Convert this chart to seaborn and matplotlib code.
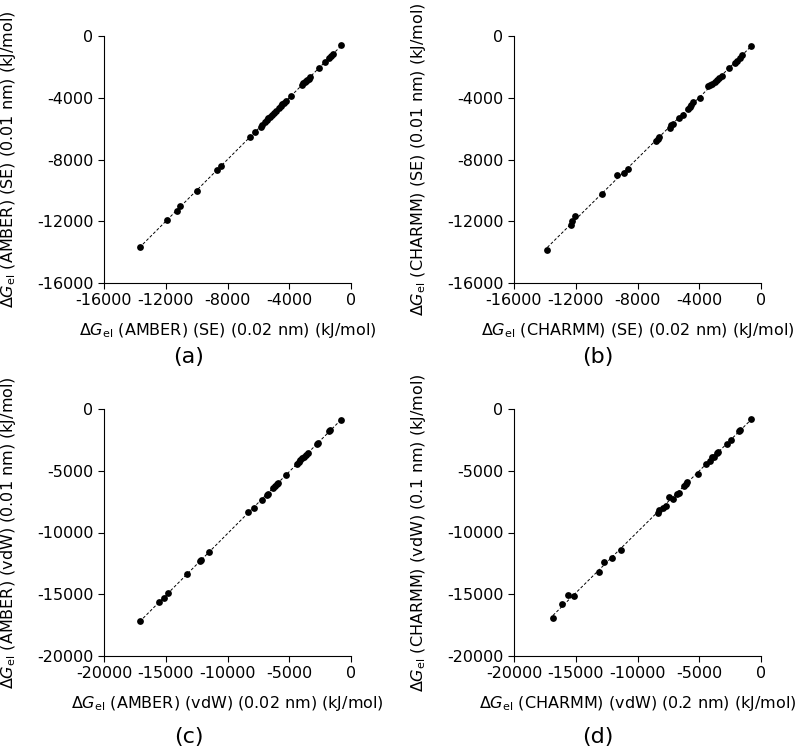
import matplotlib
matplotlib.use('Agg')
import matplotlib.pyplot as plt
import seaborn as sns

# valores (kJ/mol)
a_x = [-13700, -11900, -11300, -11050, -10000, -8650, -8450, -6550, -6200, -5850, -5780, -5550,
       -5450, -5350, -5250, -5100, -5000, -4850, -4650, -4550, -4450, -4350, -4200, -3900, -3150,
       -3080, -3000, -2920, -2850, -2750, -2650, -2050, -1700, -1400, -1300, -1150, -620]
a_y = [-13690, -11920, -11320, -11040, -10010, -8660, -8420, -6570, -6190, -5870, -5760, -5560,
       -5440, -5340, -5260, -5110, -4990, -4840, -4660, -4560, -4430, -4340, -4210, -3890, -3160,
       -3070, -3010, -2910, -2840, -2760, -2660, -2050, -1690, -1420, -1290, -1160, -600]

b_x = [-13840, -12280, -12240, -12020, -10270, -9320, -8870, -8600, -6770, -6700, -6600, -5900,
       -5800, -5690, -5340, -5080, -4710, -4620, -4520, -4400, -3960, -3420, -3300, -3150, -3000,
       -2850, -2700, -2550, -2080, -1690, -1550, -1380, -1210, -650]
b_y = [-13840, -12270, -12000, -11680, -10210, -8980, -8850, -8590, -6820, -6700, -6540, -5940,
       -5780, -5680, -5310, -5120, -4750, -4600, -4450, -4280, -4020, -3260, -3180, -3080, -2960,
       -2860, -2700, -2600, -2070, -1760, -1600, -1430, -1220, -650]

c_x = [-17110, -15570, -15160, -14810, -13240, -12240, -12110, -11510, -8300, -7870, -7240, -6840,
       -6700, -6300, -6150, -5990, -5890, -5270, -4400, -4250, -4100, -3950, -3800, -3650, -3460,
       -2780, -2700, -1760, -1700, -840]
c_y = [-17200, -15590, -15290, -14910, -13400, -12300, -12200, -11600, -8370, -8020, -7380, -6950,
       -6850, -6410, -6200, -6050, -5980, -5330, -4470, -4300, -4150, -3980, -3850, -3700, -3530,
       -2870, -2780, -1820, -1740, -910]

d_x = [-16840, -16110, -15620, -15140, -13140, -12680, -12030, -11300, -8380, -8250, -7950, -7730,
       -7430, -7160, -6780, -6600, -6220, -6100, -5970, -5140, -4490, -4150, -3950, -3800, -3600,
       -3450, -2780, -2430, -1800, -1700, -810]
d_y = [-16930, -15770, -15100, -15180, -13190, -12380, -12090, -11390, -8400, -8150, -8000, -7890,
       -7130, -7270, -6860, -6780, -6220, -6050, -5900, -5250, -4440, -4200, -3850, -3900, -3600,
       -3450, -2850, -2500, -1750, -1690, -830]

xlabels = [r'$\Delta G_{\mathrm{el}}$ (AMBER) (SE) (0.02 nm) (kJ/mol)',
           r'$\Delta G_{\mathrm{el}}$ (CHARMM) (SE) (0.02 nm) (kJ/mol)',
           r'$\Delta G_{\mathrm{el}}$ (AMBER) (vdW) (0.02 nm) (kJ/mol)',
           r'$\Delta G_{\mathrm{el}}$ (CHARMM) (vdW) (0.2 nm) (kJ/mol)']
ylabels = [r'$\Delta G_{\mathrm{el}}$ (AMBER) (SE) (0.01 nm) (kJ/mol)',
           r'$\Delta G_{\mathrm{el}}$ (CHARMM) (SE) (0.01 nm) (kJ/mol)',
           r'$\Delta G_{\mathrm{el}}$ (AMBER) (vdW) (0.01 nm) (kJ/mol)',
           r'$\Delta G_{\mathrm{el}}$ (CHARMM) (vdW) (0.1 nm) (kJ/mol)']
letras = ['(a)', '(b)', '(c)', '(d)']

sns.set_style('ticks')
plt.rcParams['font.family'] = ['DejaVu Sans']
plt.rcParams['axes.unicode_minus'] = False
plt.rcParams['text.color'] = 'black'
plt.rcParams['axes.labelcolor'] = 'black'
plt.rcParams['xtick.color'] = 'black'
plt.rcParams['ytick.color'] = 'black'
plt.rcParams['axes.edgecolor'] = 'black'

fig = plt.figure(figsize=(8, 7.48), dpi=100)

dados = [(a_x, a_y, 16000, 4000), (b_x, b_y, 16000, 4000),
         (c_x, c_y, 20000, 5000), (d_x, d_y, 20000, 5000)]
posicoes = [(104, 283), (514, 283), (104, 656), (514, 656)]
pos_letra = [(189, 357), (598, 357), (189, 737), (598, 737)]

for i, (x, y, lim, passo) in enumerate(dados):
    px, py = posicoes[i]
    ax = fig.add_axes([px / 800, 1 - py / 748, 247 / 800, 247 / 748])
    sns.regplot(x=x, y=y, ax=ax, ci=None, color='black',
                scatter_kws={'s': 24, 'linewidths': 0, 'alpha': 1},
                line_kws={'lw': 0.7, 'ls': (0, (3, 2))})
    ax.set_xlim(-lim, 0)
    ax.set_ylim(-lim, 0)
    ticks = list(range(-lim, 1, passo))
    ax.set_xticks(ticks)
    ax.set_yticks(ticks)
    ax.tick_params(labelsize=11.5, width=0.8, length=4)
    for s in ax.spines.values():
        s.set_linewidth(0.8)
    ax.set_xlabel(xlabels[i], fontsize=11.5, labelpad=9)
    ax.set_ylabel(ylabels[i], fontsize=11.5, labelpad=14)
    sns.despine(ax=ax)
    lx, ly = pos_letra[i]
    fig.text(lx / 800, 1 - ly / 748, letras[i], fontsize=16, ha='center', va='center')

plt.savefig('out.png', dpi=100)
